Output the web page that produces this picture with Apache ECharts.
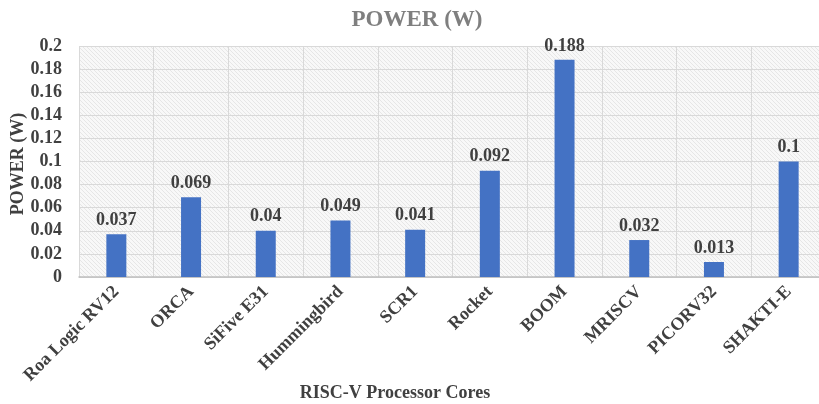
<!DOCTYPE html>
<html>
<head>
<meta charset="utf-8">
<script src="https://cdn.jsdelivr.net/npm/echarts@6/dist/echarts.min.js"></script>
<style>
  html, body { margin: 0; padding: 0; background: #fff; }
  #chart { width: 819px; height: 404px; }
</style>
</head>
<body>
<div id="chart"></div>
<script>
// 数据
const cores = ['Roa Logic RV12', 'ORCA', 'SiFive E31', 'Hummingbird', 'SCR1', 'Rocket', 'BOOM', 'MRISCV', 'PICORV32', 'SHAKTI-E']
const power = [0.037, 0.069, 0.04, 0.049, 0.041, 0.092, 0.188, 0.032, 0.013, 0.1]

const serif = '"Liberation Serif", "DejaVu Serif", serif'
const textColor = '#404040'

// hatched plot background
const makeHatch = () => {
  const c = document.createElement('canvas')
  c.width = 4
  c.height = 4
  const ctx = c.getContext('2d')
  ctx.fillStyle = '#f8f8f8'
  ctx.fillRect(0, 0, 4, 4)
  ctx.strokeStyle = '#e6e6e6'
  ctx.lineWidth = 1
  ctx.beginPath()
  ctx.moveTo(0, 0)
  ctx.lineTo(4, 4)
  ctx.stroke()
  return c
}

const chart = echarts.init(document.getElementById('chart'))

chart.setOption({
  animation: false,
  title: [
    {
      text: 'POWER (W)',
      left: 412,
      top: 4,
      textAlign: 'center',
      textStyle: { fontFamily: serif, fontWeight: 'bold', fontSize: 23, color: '#7f7f7f' }
    },
    {
      text: 'RISC-V Processor Cores',
      left: 390,
      top: 379,
      textAlign: 'center',
      textStyle: { fontFamily: serif, fontWeight: 'bold', fontSize: 18, color: textColor }
    }
  ],
  graphic: [
    {
      type: 'text',
      x: 18,
      y: 164,
      rotation: Math.PI / 2,
      style: {
        text: 'POWER (W)',
        textAlign: 'center',
        textVerticalAlign: 'middle',
        align: 'center',
        verticalAlign: 'middle',
        fontFamily: serif,
        fontWeight: 'bold',
        fontSize: 18,
        fill: textColor
      }
    }
  ],
  grid: {
    left: 79,
    top: 46,
    width: 747,
    height: 231,
    outerBoundsMode: 'none',
    show: true,
    borderWidth: 0,
    backgroundColor: { image: makeHatch(), repeat: 'repeat' }
  },
  xAxis: {
    type: 'category',
    data: cores,
    axisLine: { lineStyle: { color: '#bfbfbf', width: 1.5 } },
    axisTick: { show: false },
    splitLine: { show: true, lineStyle: { color: '#d9d9d9' } },
    axisLabel: {
      rotate: 45,
      interval: 0,
      margin: 12,
      fontFamily: serif,
      fontWeight: 'bold',
      fontSize: 18,
      color: textColor
    }
  },
  yAxis: {
    type: 'value',
    min: 0,
    max: 0.2,
    interval: 0.02,
    axisLine: { show: false },
    axisTick: { show: false },
    splitLine: { lineStyle: { color: '#d9d9d9' } },
    axisLabel: {
      margin: 17,
      fontFamily: serif,
      fontWeight: 'bold',
      fontSize: 18,
      color: textColor
    }
  },
  series: [
    {
      type: 'bar',
      data: power,
      barWidth: 20,
      itemStyle: { color: '#4472C4' },
      label: {
        show: true,
        position: 'top',
        distance: 5,
        fontFamily: serif,
        fontWeight: 'bold',
        fontSize: 18,
        color: textColor
      }
    }
  ]
})
</script>
</body>
</html>
